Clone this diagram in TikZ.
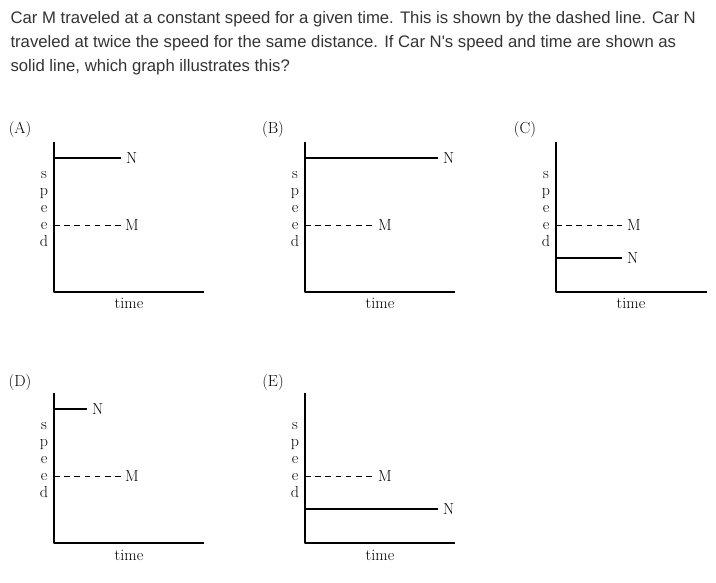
\documentclass[tikz,border=0pt]{standalone}
\usepackage{fontspec}
\usepackage{tikz}
\usetikzlibrary{arrows}
\newfontfamily\questionfont{Liberation Sans}
\definecolor{qgray}{RGB}{51,51,51}

\begin{document}
\begin{tikzpicture}[line cap=butt,line join=round,x=1pt,y=1pt,font=\fontsize{16}{17}\selectfont]
        \useasboundingbox (0,0) rectangle (716,582);
        % question
        \draw (7,558.7) node[anchor=base west,text=qgray,font=\questionfont\fontsize{16.7}{24}\selectfont] (q1) {Car M traveled at a constant speed for a given time. This is shown by the dashed line. Car N};
        \draw (7,534.5) node[anchor=base west,text=qgray,font=\questionfont\fontsize{16.7}{24}\selectfont] (q2) {traveled at twice the speed for the same distance. If Car N's speed and time are shown as};
        \draw (7,510.3) node[anchor=base west,text=qgray,font=\questionfont\fontsize{16.7}{24}\selectfont] (q3) {solid line, which graph illustrates this?};
        % (A)
        \draw [line width=1.1pt] (54,440) -- (54,290) -- (204,290);
        \draw [line width=1.1pt] (54,424) -- (121,424);
        \draw [line width=0.9pt,dash pattern=on 5.5pt off 4.7pt] (54,357) -- (121,357);
        \draw (126,424) node[anchor=west,inner sep=0pt] (NA) {N};
        \draw (125,357) node[anchor=west,inner sep=0pt] (MA) {M};
        \draw (129,273) node[anchor=base,inner sep=0pt] (tA) {time};
        \draw (20,448) node[anchor=base,inner sep=0pt] (labA) {(A)};
        \draw (44,403.5) node[anchor=base,inner sep=0pt] (sA1) {s};
        \draw (44,386.5) node[anchor=base,inner sep=0pt] (sA2) {p};
        \draw (44,369.5) node[anchor=base,inner sep=0pt] (sA3) {e};
        \draw (44,352.5) node[anchor=base,inner sep=0pt] (sA4) {e};
        \draw (44,335.5) node[anchor=base,inner sep=0pt] (sA5) {d};
        % (B)
        \draw [line width=1.1pt] (305,440) -- (305,290) -- (455,290);
        \draw [line width=1.1pt] (305,424) -- (438,424);
        \draw [line width=0.9pt,dash pattern=on 5.5pt off 4.7pt] (305,357) -- (373,357);
        \draw (443,424) node[anchor=west,inner sep=0pt] (NB) {N};
        \draw (378,357) node[anchor=west,inner sep=0pt] (MB) {M};
        \draw (380,273) node[anchor=base,inner sep=0pt] (tB) {time};
        \draw (273,448) node[anchor=base,inner sep=0pt] (labB) {(B)};
        \draw (295,403.5) node[anchor=base,inner sep=0pt] (sB1) {s};
        \draw (295,386.5) node[anchor=base,inner sep=0pt] (sB2) {p};
        \draw (295,369.5) node[anchor=base,inner sep=0pt] (sB3) {e};
        \draw (295,352.5) node[anchor=base,inner sep=0pt] (sB4) {e};
        \draw (295,335.5) node[anchor=base,inner sep=0pt] (sB5) {d};
        % (C)
        \draw [line width=1.1pt] (556,440) -- (556,290) -- (707,290);
        \draw [line width=1.1pt] (556,324) -- (622,324);
        \draw [line width=0.9pt,dash pattern=on 5.5pt off 4.7pt] (556,357) -- (622,357);
        \draw (627,324) node[anchor=west,inner sep=0pt] (NC) {N};
        \draw (627,357) node[anchor=west,inner sep=0pt] (MC) {M};
        \draw (631,273) node[anchor=base,inner sep=0pt] (tC) {time};
        \draw (525,448) node[anchor=base,inner sep=0pt] (labC) {(C)};
        \draw (546,403.5) node[anchor=base,inner sep=0pt] (sC1) {s};
        \draw (546,386.5) node[anchor=base,inner sep=0pt] (sC2) {p};
        \draw (546,369.5) node[anchor=base,inner sep=0pt] (sC3) {e};
        \draw (546,352.5) node[anchor=base,inner sep=0pt] (sC4) {e};
        \draw (546,335.5) node[anchor=base,inner sep=0pt] (sC5) {d};
        % (D)
        \draw [line width=1.1pt] (54,189) -- (54,39) -- (204,39);
        \draw [line width=1.1pt] (54,173) -- (87,173);
        \draw [line width=0.9pt,dash pattern=on 5.5pt off 4.7pt] (54,106) -- (121,106);
        \draw (92,173) node[anchor=west,inner sep=0pt] (ND) {N};
        \draw (125,106) node[anchor=west,inner sep=0pt] (MD) {M};
        \draw (129,22) node[anchor=base,inner sep=0pt] (tD) {time};
        \draw (20,195) node[anchor=base,inner sep=0pt] (labD) {(D)};
        \draw (44,152.5) node[anchor=base,inner sep=0pt] (sD1) {s};
        \draw (44,135.5) node[anchor=base,inner sep=0pt] (sD2) {p};
        \draw (44,118.5) node[anchor=base,inner sep=0pt] (sD3) {e};
        \draw (44,101.5) node[anchor=base,inner sep=0pt] (sD4) {e};
        \draw (44,84.5) node[anchor=base,inner sep=0pt] (sD5) {d};
        % (E)
        \draw [line width=1.1pt] (305,189) -- (305,39) -- (455,39);
        \draw [line width=1.1pt] (305,73) -- (438,73);
        \draw [line width=0.9pt,dash pattern=on 5.5pt off 4.7pt] (305,106) -- (373,106);
        \draw (443,73) node[anchor=west,inner sep=0pt] (NE) {N};
        \draw (378,106) node[anchor=west,inner sep=0pt] (ME) {M};
        \draw (380,22) node[anchor=base,inner sep=0pt] (tE) {time};
        \draw (273,195) node[anchor=base,inner sep=0pt] (labE) {(E)};
        \draw (295,152.5) node[anchor=base,inner sep=0pt] (sE1) {s};
        \draw (295,135.5) node[anchor=base,inner sep=0pt] (sE2) {p};
        \draw (295,118.5) node[anchor=base,inner sep=0pt] (sE3) {e};
        \draw (295,101.5) node[anchor=base,inner sep=0pt] (sE4) {e};
        \draw (295,84.5) node[anchor=base,inner sep=0pt] (sE5) {d};
    \end{tikzpicture}
\end{document}
